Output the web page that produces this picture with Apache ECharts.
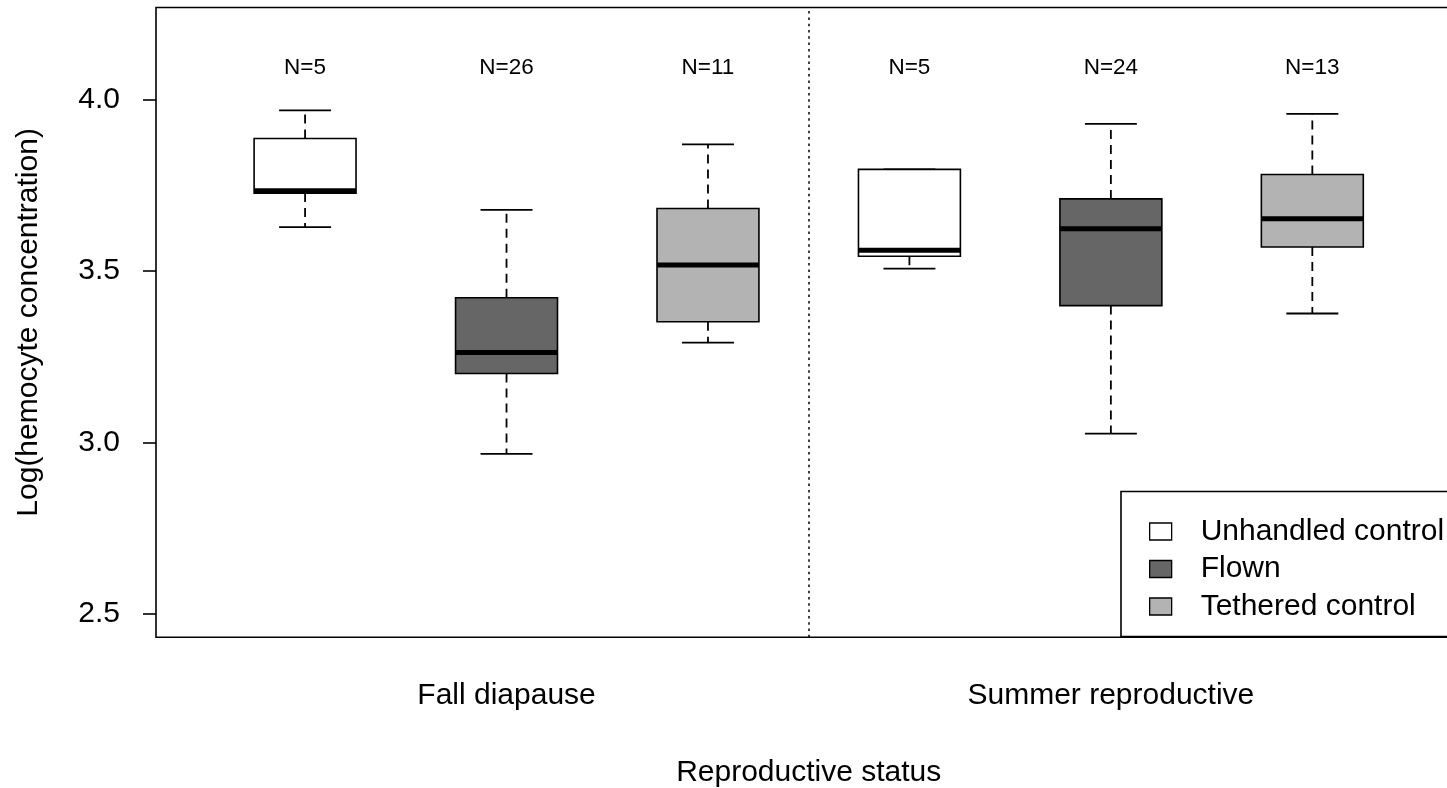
<!DOCTYPE html>
<html>
<head>
<meta charset="utf-8">
<script src="https://cdn.jsdelivr.net/npm/echarts@6/dist/echarts.min.js"></script>
<style>
  html, body { margin: 0; padding: 0; background: #fff; }
  #chart { width: 1447px; height: 788px; }
</style>
</head>
<body>
<div id="chart"></div>
<script>
// Reproductive status groups and treatments
const groups = ['Fall diapause', 'Summer reproductive'];
const treatments = ['Unhandled control', 'Flown', 'Tethered control'];
const fills = ['#FFFFFF', '#666666', '#B3B3B3'];

// Box statistics per treatment, one value per group (Fall, Summer)
const lowerWhisker = {
  'Unhandled control': [3.628, 3.507],
  'Flown':             [2.967, 3.026],
  'Tethered control':  [3.291, 3.376]
};
const lowerQuartile = {
  'Unhandled control': [3.727, 3.543],
  'Flown':             [3.201, 3.399],
  'Tethered control':  [3.352, 3.570]
};
const medians = {
  'Unhandled control': [3.734, 3.560],
  'Flown':             [3.262, 3.623],
  'Tethered control':  [3.517, 3.652]
};
const upperQuartile = {
  'Unhandled control': [3.886, 3.796],
  'Flown':             [3.422, 3.710],
  'Tethered control':  [3.682, 3.781]
};
const upperWhisker = {
  'Unhandled control': [3.968, 3.796],
  'Flown':             [3.678, 3.929],
  'Tethered control':  [3.869, 3.958]
};
const sampleSizes = {
  'Unhandled control': [5, 5],
  'Flown':             [26, 24],
  'Tethered control':  [11, 13]
};

const yTicks = [2.5, 3.0, 3.5, 4.0];
const countLabelY = 4.092;
const groupDivider = 3.5;

const BOX_HALF = 0.253;
const CAP_HALF = 0.129;
const FONT = 'Liberation Sans, Arial, sans-serif';

function makeSeries(tIdx) {
  const name = treatments[tIdx];
  const data = groups.map((g, gIdx) => [
    gIdx * 3 + tIdx + 1,
    lowerWhisker[name][gIdx],
    lowerQuartile[name][gIdx],
    medians[name][gIdx],
    upperQuartile[name][gIdx],
    upperWhisker[name][gIdx],
    sampleSizes[name][gIdx]
  ]);
  const s = {
    type: 'custom',
    name: name,
    data: data,
    itemStyle: { color: fills[tIdx], borderColor: '#000' },
    encode: { x: 0, y: [1, 2, 3, 4, 5] },
    clip: false,
    renderItem: function (params, api) {
      const x = api.value(0);
      const lo = api.value(1), q1 = api.value(2), md = api.value(3),
            q3 = api.value(4), hi = api.value(5), n = api.value(6);
      const pL = api.coord([x - BOX_HALF, q3]);
      const pR = api.coord([x + BOX_HALF, q1]);
      const cL = api.coord([x - CAP_HALF, lo]);
      const cR = api.coord([x + CAP_HALF, lo]);
      const uL = api.coord([x - CAP_HALF, hi]);
      const uR = api.coord([x + CAP_HALF, hi]);
      const pc = api.coord([x, md]);
      const pq1 = api.coord([x, q1]);
      const pq3 = api.coord([x, q3]);
      const pm = api.coord([x, md]);
      const pLabel = api.coord([x, countLabelY]);
      const children = [];
      const dash = { stroke: '#000', lineWidth: 1.8, lineDash: [9, 6] };
      if (lo < q1) {
        children.push({ type: 'line', shape: { x1: pc[0], y1: pq1[1], x2: pc[0], y2: cL[1] }, style: dash });
      }
      if (hi > q3) {
        children.push({ type: 'line', shape: { x1: pc[0], y1: pq3[1], x2: pc[0], y2: uL[1] }, style: dash });
      }
      children.push({ type: 'line', shape: { x1: cL[0], y1: cL[1], x2: cR[0], y2: cR[1] }, style: { stroke: '#000', lineWidth: 1.8 } });
      children.push({ type: 'line', shape: { x1: uL[0], y1: uL[1], x2: uR[0], y2: uR[1] }, style: { stroke: '#000', lineWidth: 1.8 } });
      children.push({
        type: 'rect',
        shape: { x: pL[0], y: pL[1], width: pR[0] - pL[0], height: pR[1] - pL[1] },
        style: { fill: api.visual('color'), stroke: '#000', lineWidth: 1.6 }
      });
      children.push({ type: 'line', shape: { x1: pL[0], y1: pm[1], x2: pR[0], y2: pm[1] }, style: { stroke: '#000', lineWidth: 5 } });
      children.push({
        type: 'text',
        style: {
          x: pLabel[0], y: pLabel[1], text: 'N=' + n,
          align: 'center', verticalAlign: 'middle',
          font: '22.5px ' + FONT, fill: '#000'
        }
      });
      return { type: 'group', children: children };
    }
  };
  if (tIdx === 0) {
    s.markLine = {
      silent: true,
      symbol: ['none', 'none'],
      label: { show: false },
      lineStyle: { color: '#000', width: 1.5, type: [2.5, 3.8] },
      data: [{ xAxis: groupDivider }]
    };
  }
  return s;
}

const chart = echarts.init(document.getElementById('chart'), null, { renderer: 'canvas' });

chart.setOption({
  animation: false,
  backgroundColor: '#fff',
  textStyle: { fontFamily: FONT, color: '#000' },
  grid: {
    left: 156, top: 7.5, width: 1305.4, height: 629.8,
    outerBoundsMode: 'none',
    show: true, borderColor: '#000', borderWidth: 1.6, backgroundColor: 'transparent'
  },
  legend: {
    orient: 'vertical',
    left: 1121, top: 491.5,
    data: treatments,
    icon: 'rect',
    itemWidth: 22, itemHeight: 17, itemGap: 7.5,
    padding: [25, 16, 15, 28],
    backgroundColor: '#fff',
    borderColor: '#000', borderWidth: 1.6,
    itemStyle: { borderColor: '#000', borderWidth: 1.3 },
    textStyle: { fontSize: 30, fontFamily: FONT, color: '#000', padding: [0, 0, 0, 24] },
    selectedMode: false
  },
  xAxis: {
    type: 'value', min: 0.26, max: 6.74,
    name: 'Reproductive status', nameLocation: 'middle', nameGap: 120,
    nameTextStyle: { fontSize: 30, fontFamily: FONT, color: '#000' },
    axisLine: { show: false }, axisTick: { show: false }, splitLine: { show: false },
    axisLabel: {
      customValues: [2, 5],
      formatter: function (v) { return v === 2 ? groups[0] : groups[1]; },
      fontSize: 30, color: '#000', margin: 43, fontFamily: FONT
    }
  },
  yAxis: {
    type: 'value', min: 2.432, max: 4.268,
    name: 'Log(hemocyte concentration)', nameLocation: 'middle', nameGap: 112, nameRotate: 90,
    nameTextStyle: { fontSize: 30, fontFamily: FONT, color: '#000' },
    axisLine: { show: false },
    splitLine: { show: false },
    axisTick: { show: true, customValues: yTicks, length: 13, lineStyle: { color: '#000', width: 1.6 } },
    axisLabel: {
      customValues: yTicks,
      formatter: function (v) { return v.toFixed(1); },
      fontSize: 30, color: '#000', margin: 36, fontFamily: FONT
    }
  },
  series: treatments.map((t, i) => makeSeries(i))
});
</script>
</body>
</html>
